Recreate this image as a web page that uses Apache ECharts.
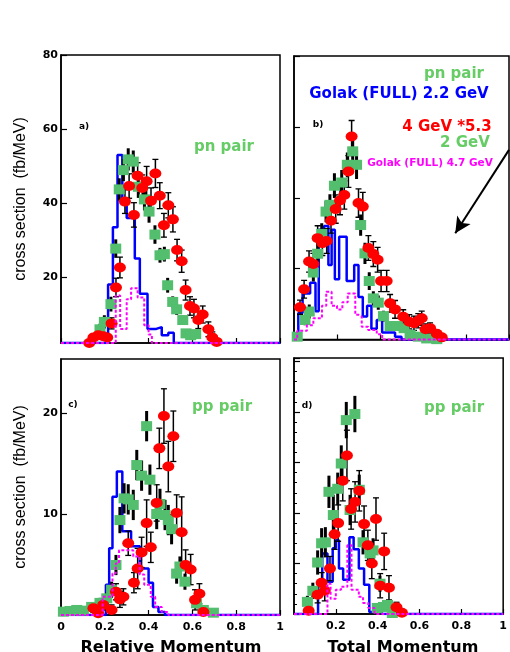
<!DOCTYPE html>
<html><head><meta charset="utf-8">
<script src="https://cdn.jsdelivr.net/npm/echarts@6/dist/echarts.min.js"></script>
<style>html,body{margin:0;padding:0;background:#fff}#c{width:510px;height:652px}</style>
</head><body><div id="c"></div><script>
// ---------- data: [x, value, error] ----------
const redA = [[0.129,2.2,0],[0.148,3.7,0.8],[0.170,4.3,0.8],[0.193,4.0,0.8],[0.211,3.7,0.8],[0.231,7.5,1.5],[0.251,17.2,2.5],[0.269,22.6,2.8],[0.292,40.4,3.2],[0.311,44.6,3.3],[0.333,36.8,3.3],[0.350,47.4,3.5],[0.371,44.1,3.5],[0.391,45.9,4],[0.411,40.6,3.5],[0.431,48,3.8],[0.451,42,3.5],[0.470,34,3.2],[0.490,39.4,3.4],[0.511,35.6,3.4],[0.530,27.3,2.9],[0.551,24.3,3],[0.569,16.5,2.7],[0.589,12.2,2.5],[0.607,11.5,2.5],[0.627,8.4,2.3],[0.647,9.9,2.3],[0.673,5.9,2],[0.691,3.7,1.5],[0.711,2.5,0]];
const greenA = [[0.178,5.9,1.5],[0.198,7.9,1.8],[0.228,12.7,2],[0.250,27.7,2.5],[0.266,43.7,3],[0.285,48.9,3],[0.307,51.8,3],[0.330,51.2,3],[0.353,44.4,3],[0.381,41,3],[0.402,37.7,3],[0.429,31.5,2.5],[0.452,25.9,2],[0.472,26.2,2],[0.487,17.8,2],[0.510,13.3,1.5],[0.528,11.3,1.5],[0.556,8.4,1.2],[0.571,4.8,1],[0.592,4.3,1],[0.615,4.6,1]];
const redB = [[0.028,9.1,2],[0.047,14.2,2.5],[0.070,22,3],[0.090,21.3,3],[0.110,28.6,3.5],[0.132,27.2,3.5],[0.152,27.8,3.5],[0.172,33.5,3.5],[0.194,36.8,4],[0.214,39.2,4],[0.234,40.8,4],[0.253,47.4,4.5],[0.268,57.3,4.5],[0.300,38.5,4],[0.320,37.5,4],[0.346,25.8,3.5],[0.369,24.1,3.5],[0.389,22.5,3.5],[0.405,16.5,3],[0.431,16.5,3],[0.447,10.2,2.5],[0.470,8.5,2.5],[0.508,6.4,2],[0.536,5.0,2],[0.558,4.6,2],[0.578,5.3,2],[0.594,6.0,2],[0.612,2.9,1.5],[0.633,3.2,1.5],[0.664,1.6,1],[0.687,0.6,0.8]];
const greenB = [[0.015,0.8,0.8],[0.051,5.5,1.5],[0.071,7.9,2],[0.090,18.9,2.5],[0.110,24.2,3],[0.129,29.8,3],[0.149,36.1,3],[0.167,38,3],[0.188,43.4,3.5],[0.222,44.3,3.5],[0.248,49.3,3.5],[0.273,53.1,4],[0.291,49.3,4],[0.310,32.3,3],[0.330,24.3,3],[0.350,16.5,2.5],[0.369,11.6,2],[0.392,10.4,2],[0.416,6.6,1.5],[0.447,3.8,1.2],[0.478,3.8,1.2],[0.512,3.2,1],[0.540,1.3,0.8],[0.578,0.8,0.5],[0.617,0.3,0.5],[0.664,0.1,0.3]];
const redC = [[0.148,0.66,0.4],[0.170,0.17,0.4],[0.193,1.0,0.5],[0.231,0.5,0.5],[0.251,2.3,0.8],[0.269,1.55,0.8],[0.285,1.8,0.8],[0.307,7.1,1.2],[0.333,3.2,1],[0.350,4.6,2],[0.368,6.2,1.5],[0.391,9.1,2.3],[0.410,6.7,1.5],[0.437,11.1,1.8],[0.449,16.5,2],[0.470,19.7,2.7],[0.490,14.7,2.5],[0.513,17.7,2.5],[0.528,10.1,1.8],[0.551,8.2,3.5],[0.569,4.95,1.5],[0.592,4.5,1.5],[0.612,1.5,1],[0.632,2.1,1],[0.650,0.3,0.3]];
const greenC = [[0.011,0.33,0.2],[0.041,0.4,0.2],[0.072,0.5,0.2],[0.102,0.43,0.2],[0.140,0.8,0.4],[0.178,1.2,0.5],[0.209,1.65,0.6],[0.231,2.5,0.8],[0.251,4.95,1],[0.269,9.4,1.3],[0.288,11.55,1.5],[0.307,11.45,1.5],[0.330,10.9,1.5],[0.346,14.85,1.5],[0.368,13.8,1.5],[0.391,18.7,1.5],[0.406,13.4,1.5],[0.437,10,1.5],[0.452,11,1.5],[0.475,9.9,1.5],[0.490,9.4,1.5],[0.505,8.5,1.5],[0.528,4.1,1],[0.543,4.8,1],[0.566,3.3,0.8],[0.619,1.16,0.5],[0.650,0.5,0.3],[0.696,0.23,0.2]];
const redD = [[0.070,0.33,0.5],[0.113,1.9,0.8],[0.132,3.1,1],[0.147,2.3,1],[0.172,4.5,1.2],[0.194,7.9,1.5],[0.211,9.0,1.8],[0.233,13.2,2],[0.253,15.7,2.5],[0.273,10.4,2],[0.292,11.1,2],[0.312,12.2,2],[0.335,8.9,1.8],[0.353,6.8,1.5],[0.372,5.0,1.5],[0.392,9.4,2.1],[0.412,2.8,1.2],[0.431,6.2,1.8],[0.454,2.6,1.2],[0.490,0.66,0.5],[0.516,0.13,0.3]];
const greenD = [[0.064,1.2,0.6],[0.090,2.3,0.8],[0.113,5.1,1.2],[0.132,7.0,1.5],[0.150,7.1,1.5],[0.167,12.1,1.6],[0.188,9.8,2],[0.209,12.4,1.6],[0.226,14.9,1.8],[0.250,19.2,1.8],[0.268,10.3,1.5],[0.291,19.8,1.8],[0.312,12.3,1.5],[0.330,7.1,1.2],[0.364,6.0,1.2],[0.378,6.3,1.2],[0.398,0.6,0.4],[0.411,3.0,0.8],[0.428,0.7,0.4],[0.447,0.9,0.4],[0.470,0.1,0.2]];

// ---------- histograms: bin edges and bin contents ----------
const blueAEdges = [0,0.215,0.237,0.258,0.28,0.30,0.337,0.36,0.395,0.435,0.46,0.49,0.515,1];
const blueAVals  = [0,18,33.5,53,40,36,25,15.5,6,6.5,4.3,5,0];
const magAEdges  = [0,0.25,0.27,0.30,0.32,0.35,0.38,0.40,0.415,1];
const magAVals   = [0,15,6,14,17,14.5,7,4.5,0];
const blueBEdges = [0,0.02,0.04,0.075,0.10,0.115,0.14,0.16,0.175,0.19,0.21,0.245,0.28,0.30,0.32,0.34,0.36,0.385,0.41,0.47,0.50,1];
const blueBVals  = [0,7.5,13,16,8,31,32,21,31,17,29,16.5,21,12,6.5,9.5,3,5.5,2,0.8,0];
const magBEdges  = [0,0.015,0.06,0.09,0.13,0.15,0.175,0.20,0.225,0.25,0.285,0.30,0.315,0.345,0.385,0.41,1];
const magBVals   = [0,2.5,4,6,9.5,13.5,9.5,8.5,10.5,13,7,6.5,3.6,2.7,1.5,0];
const blueCEdges = [0,0.205,0.22,0.235,0.255,0.28,0.32,0.36,0.40,0.42,0.445,0.475,1];
const blueCVals  = [0,3,6.6,11.7,14.2,8.3,6.8,4.6,3.2,0.8,0.3,0];
const magCEdges  = [0,0.19,0.235,0.25,0.265,0.33,0.36,0.38,0.41,0.43,0.46,0.49,1];
const magCVals   = [0,1.8,4.1,5.1,6.4,5.8,4,3,1.8,0.8,0.3,0];
const blueDEdges = [0,0.115,0.135,0.16,0.185,0.20,0.215,0.235,0.265,0.285,0.31,0.335,0.36,0.38,0.42,1];
const blueDVals  = [0,3.0,6.0,3.2,6.5,7.3,4.5,3.4,7.6,6.4,4.5,2.9,0.2,0.9,0];
const magDEdges  = [0,0.16,0.175,0.2,0.225,0.255,0.275,0.31,0.33,0.355,0.385,1];
const magDVals   = [0,3.0,1.5,2.4,2.7,6.8,2.4,1.7,1.1,0.6,0];

// axis tick labels
const xTicks = [0,0.2,0.4,0.6,0.8,1];
const yTicksA = [20,40,60,80];

// ---------- chart ----------
const FONT = 'DejaVu Sans';
const RED = '#ff0000', GREEN = '#52be6e', BLUE = '#0000ff', MAG = '#ff00ff';
const yMins = [2.2, 0, 0, 0];

function hist(edges, vals, ymin) {
  const d = [];
  for (let i = 0; i < vals.length; i++) d.push([edges[i], Math.max(vals[i], ymin)]);
  d.push([edges[edges.length - 1], Math.max(vals[vals.length - 1], ymin)]);
  return d;
}
function errRender(cap, width, ymin) {
  return function (params, api) {
    const x = api.value(0), y = api.value(1), e = api.value(2);
    if (!e) return null;
    const p1 = api.coord([x, y + e]), p2 = api.coord([x, Math.max(y - e, ymin)]);
    const ch = [{type: 'line', shape: {x1: p1[0], y1: p1[1], x2: p2[0], y2: p2[1]}, style: {stroke: '#000', lineWidth: width}}];
    if (cap) {
      ch.push({type: 'line', shape: {x1: p1[0] - cap, y1: p1[1], x2: p1[0] + cap, y2: p1[1]}, style: {stroke: '#000', lineWidth: 1.3}});
      if (y - e > ymin) ch.push({type: 'line', shape: {x1: p2[0] - cap, y1: p2[1], x2: p2[0] + cap, y2: p2[1]}, style: {stroke: '#000', lineWidth: 1.3}});
    }
    return {type: 'group', children: ch};
  };
}
const tickFmt = v => (v === 0 || v === 1) ? String(v) : v.toFixed(1);
function xA(g, labels, showMin) {
  return {type: 'value', gridIndex: g, min: 0, max: 1, interval: 0.2, z: 0,
    axisLine: {show: true, onZero: false, lineStyle: {color: '#000', width: 1.5}},
    axisTick: {show: true, inside: true, length: 5, lineStyle: {color: '#000', width: 1.2}},
    splitLine: {show: false},
    axisLabel: {show: labels, showMinLabel: showMin, showMaxLabel: true, margin: 7, color: '#000',
      fontFamily: FONT, fontWeight: 'bold', fontSize: 11, formatter: tickFmt}};
}
function yBase(g, min, max) {
  return {type: 'value', gridIndex: g, min: min, max: max, z: 0,
    axisLine: {show: true, onZero: false, lineStyle: {color: '#000', width: 1.5}},
    axisTick: {show: true, inside: true, length: 6, lineStyle: {color: '#000', width: 1.2}},
    splitLine: {show: false},
    axisLabel: {show: true, margin: 3, color: '#000', fontFamily: FONT, fontWeight: 'bold', fontSize: 11}};
}
const yA = yBase(0, 2.2, 80);
yA.axisLabel.customValues = yTicksA; yA.axisTick.customValues = yTicksA;
const yB = yBase(1, 0, 80); yB.interval = 20; yB.axisLabel.show = false;
const yC = yBase(2, 0, 25.35); yC.interval = 10; yC.axisLabel.showMinLabel = false; yC.axisLabel.showMaxLabel = false;
const yD = yBase(3, 0, 25.35); yD.interval = 5; yD.axisLabel.show = false;
yD.minorTick = {show: true, splitNumber: 5, length: 3, lineStyle: {color: '#000', width: 1}};

const panels = [
  {red: redA, green: greenA, be: blueAEdges, bv: blueAVals, me: magAEdges, mv: magAVals},
  {red: redB, green: greenB, be: blueBEdges, bv: blueBVals, me: magBEdges, mv: magBVals},
  {red: redC, green: greenC, be: blueCEdges, bv: blueCVals, me: magCEdges, mv: magCVals},
  {red: redD, green: greenD, be: blueDEdges, bv: blueDVals, me: magDEdges, mv: magDVals}
];
const series = [];
panels.forEach((p, i) => {
  const ax = {xAxisIndex: i, yAxisIndex: i};
  const ymin = yMins[i];
  series.push(Object.assign({type: 'line', step: 'end', showSymbol: false, symbol: 'none', z: 2,
    lineStyle: {color: BLUE, width: 2.5}, data: hist(p.be, p.bv, ymin)}, ax));
  series.push(Object.assign({type: 'line', step: 'end', showSymbol: false, symbol: 'none', z: 20, clip: false,
    lineStyle: {color: MAG, width: 2, type: [3, 2]}, data: hist(p.me, p.mv, ymin)}, ax));
  series.push(Object.assign({type: 'custom', z: 4, clip: true, renderItem: errRender(0, 3, ymin),
    encode: {x: 0, y: 1}, data: p.green}, ax));
  series.push(Object.assign({type: 'custom', z: 4, clip: true, renderItem: errRender(3, 1.5, ymin),
    encode: {x: 0, y: 1}, data: p.red}, ax));
  series.push(Object.assign({type: 'scatter', symbol: 'rect', symbolSize: [11, 10], z: 5,
    itemStyle: {color: GREEN, opacity: 1}, data: p.green.map(d => [d[0], d[1]])}, ax));
  const rs = Object.assign({type: 'scatter', symbol: 'circle', symbolSize: [12, 10], z: 6,
    itemStyle: {color: RED, opacity: 1}, data: p.red.map(d => [d[0], d[1]])}, ax);
  if (i === 1) {
    rs.markLine = {silent: true, symbol: ['none', 'arrow'], symbolSize: [12, 16],
      label: {show: false}, lineStyle: {color: '#000', width: 2, type: 'solid'},
      data: [[{coord: [1.0, 53.5]}, {coord: [0.75, 30]}]]};
  }
  series.push(rs);
});

function txt(x, y, text, font, fill, rot) {
  return {type: 'text', x: x, y: y, rotation: rot || 0, z: 100,
    style: {text: text, font: font, fill: fill, align: 'center', verticalAlign: 'middle'}};
}
const B15 = 'bold 15px "DejaVu Sans"';
const graphic = [
  txt(21, 199, 'cross section  (fb/MeV)', '16px "Liberation Sans"', '#000', Math.PI / 2),
  txt(21, 487, 'cross section  (fb/MeV)', '16px "Liberation Sans"', '#000', Math.PI / 2),
  txt(171, 647.5, 'Relative Momentum', 'bold 16px "DejaVu Sans"', '#000'),
  txt(403, 647.5, 'Total Momentum', 'bold 16px "DejaVu Sans"', '#000'),
  txt(84, 127, 'a)', 'bold 9px "DejaVu Sans"', '#000'),
  txt(318, 125, 'b)', 'bold 9px "DejaVu Sans"', '#000'),
  txt(73, 405, 'c)', 'bold 9px "DejaVu Sans"', '#000'),
  txt(307, 406, 'd)', 'bold 9px "DejaVu Sans"', '#000'),
  txt(224, 147, 'pn pair', B15, '#66cc66'),
  txt(454, 74, 'pn pair', B15, '#66cc66'),
  txt(399, 94, 'Golak (FULL) 2.2 GeV', B15, BLUE),
  txt(447, 127, '4 GeV *5.3', B15, RED),
  txt(465, 143, '2 GeV', B15, '#66cc66'),
  txt(430, 163, 'Golak (FULL) 4.7 GeV', 'bold 10.5px "DejaVu Sans"', MAG),
  txt(222, 407, 'pp pair', B15, '#66cc66'),
  txt(454, 408, 'pp pair', B15, '#66cc66')
];

const gridStyle = {show: true, borderColor: '#000', borderWidth: 1.5, backgroundColor: 'transparent', containLabel: false};
const option = {
  animation: false,
  backgroundColor: '#fff',
  grid: [
    Object.assign({left: 61, top: 55, width: 219, height: 288}, gridStyle),
    Object.assign({left: 294, top: 56, width: 215, height: 283.5}, gridStyle),
    Object.assign({left: 61, top: 359, width: 219, height: 256}, gridStyle),
    Object.assign({left: 294, top: 358, width: 215, height: 256}, gridStyle)
  ],
  xAxis: [xA(0, false, false), xA(1, false, false), xA(2, true, true), xA(3, true, false)],
  yAxis: [yA, yB, yC, yD],
  series: series,
  graphic: graphic
};
const chart = echarts.init(document.getElementById('c'));
chart.setOption(option);
</script></body></html>
